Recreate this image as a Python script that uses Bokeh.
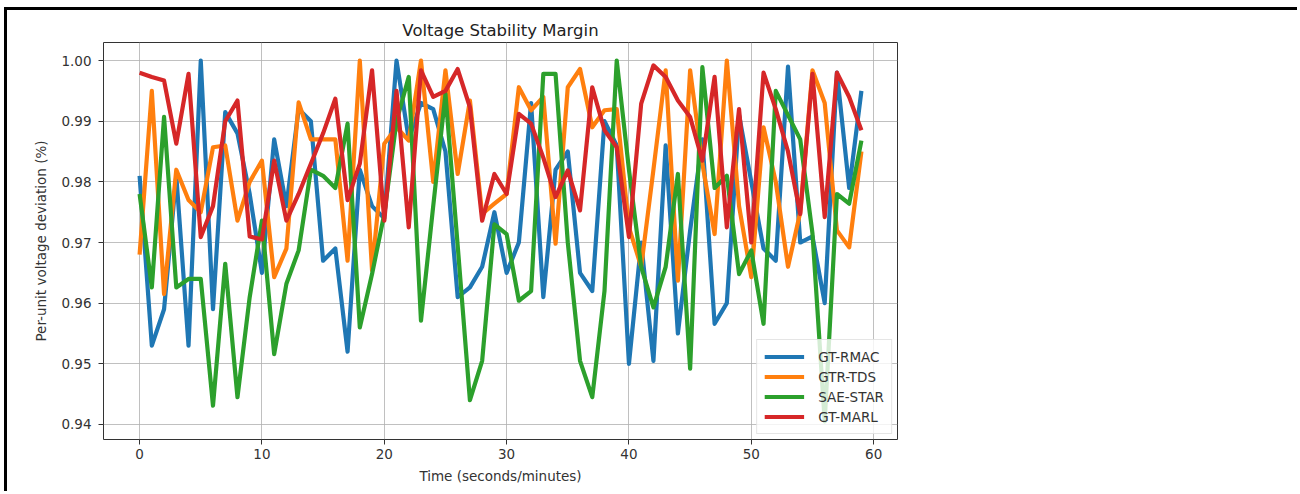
from bokeh.plotting import figure
from bokeh.models import Range1d, FixedTicker, PrintfTickFormatter, Legend, LegendItem
from bokeh.embed import file_html
from bokeh.resources import INLINE

time = list(range(60))
gt_rmac = [0.981, 0.953, 0.959, 0.981, 0.953, 1.000, 0.959, 0.9915, 0.988, 0.978,
           0.965, 0.987, 0.976, 0.992, 0.990, 0.967, 0.969, 0.952, 0.982, 0.976,
           0.974, 1.000, 0.987, 0.993, 0.992, 0.985, 0.961, 0.9626, 0.966, 0.975,
           0.965, 0.970, 0.993, 0.961, 0.982, 0.985, 0.965, 0.962, 0.990, 0.986,
           0.950, 0.970, 0.9505, 0.986, 0.955, 0.972, 0.987, 0.9566, 0.960, 0.991,
           0.980, 0.969, 0.967, 0.999, 0.970, 0.971, 0.960, 0.998, 0.979, 0.995]
gtr_tds = [0.968, 0.995, 0.9615, 0.982, 0.977, 0.975, 0.9857, 0.986, 0.9736, 0.980,
           0.9835, 0.9643, 0.969, 0.9931, 0.987, 0.987, 0.987, 0.967, 1.000, 0.9654,
           0.9863, 0.989, 0.9868, 1.000, 0.980, 0.9984, 0.9813, 0.9934, 0.9747, 0.9764,
           0.978, 0.9956, 0.9918, 0.994, 0.9698, 0.9956, 0.9986, 0.989, 0.9918, 0.992,
           0.9725, 0.966, 0.982, 0.9984, 0.9637, 0.9984, 0.983, 0.9714, 1.000, 0.976,
           0.9643, 0.989, 0.980, 0.966, 0.975, 0.9984, 0.993, 0.972, 0.9692, 0.985]
sae_star = [0.978, 0.9626, 0.9907, 0.9626, 0.964, 0.964, 0.9431, 0.9665, 0.9445, 0.961,
            0.9736, 0.9516, 0.9632, 0.9687, 0.982, 0.981, 0.979, 0.9896, 0.956, 0.9648,
            0.9747, 0.990, 0.9973, 0.9571, 0.976, 0.9945, 0.9695, 0.944, 0.9505, 0.973,
            0.9714, 0.9604, 0.962, 0.9978, 0.9978, 0.970, 0.9505, 0.9445, 0.962, 1.000,
            0.982, 0.966, 0.9593, 0.966, 0.9813, 0.9492, 0.9989, 0.979, 0.981, 0.9648,
            0.9687, 0.9566, 0.995, 0.991, 0.987, 0.9715, 0.9405, 0.978, 0.9764, 0.9868]
gt_marl = [0.998, 0.9973, 0.9967, 0.9863, 0.9978, 0.9709, 0.976, 0.990, 0.9934, 0.971,
           0.9705, 0.9835, 0.9736, 0.978, 0.983, 0.988, 0.9937, 0.977, 0.983, 0.9984,
           0.9736, 0.995, 0.9725, 0.9984, 0.994, 0.995, 0.9986, 0.9923, 0.9736, 0.9813,
           0.978, 0.9912, 0.9896, 0.984, 0.9775, 0.9819, 0.9753, 0.9956, 0.9885, 0.9857,
           0.9709, 0.9929, 0.9992, 0.9973, 0.9934, 0.9907, 0.9835, 0.9973, 0.9725, 0.992,
           0.970, 0.998, 0.992, 0.985, 0.9747, 0.9978, 0.9742, 0.998, 0.994, 0.9885]

series_names = ["GT-RMAC", "GTR-TDS", "SAE-STAR", "GT-MARL"]
series_values = [gt_rmac, gtr_tds, sae_star, gt_marl]
series_colors = ["#1f77b4", "#ff7f0e", "#2ca02c", "#d62728"]
x_ticks = [0, 10, 20, 30, 40, 50, 60]
y_ticks = [0.94, 0.95, 0.96, 0.97, 0.98, 0.99, 1.00]

FONT = "DejaVu Sans"

xmin, xmax = min(time), max(time)
xpad = 0.05 * (xmax - xmin)
allv = [v for s in series_values for v in s]
ymin, ymax = min(allv), max(allv)
ypad = 0.05 * (ymax - ymin)

p = figure(width=1293, height=484, output_backend="svg", toolbar_location=None,
           x_range=Range1d(xmin - xpad, xmax + xpad),
           y_range=Range1d(ymin - ypad, ymax + ypad),
           title="Voltage Stability Margin",
           min_border_left=96, min_border_right=403,
           min_border_top=32, min_border_bottom=55)

# black picture frame (top and left edges, as in the cropped original)
p.styles = {"margin-top": "10px", "margin-left": "7px",
            "box-shadow": "-3px -3px 0px 0px black"}

p.title.align = "center"
p.title.text_font = FONT
p.title.text_font_size = "16.5px"
p.title.text_font_style = "normal"
p.title.text_color = "#222222"
p.title.standoff = 5

p.background_fill_color = "white"
p.border_fill_color = "white"
p.outline_line_color = "#333333"
p.outline_line_width = 1

items = []
for name, vals, col in zip(series_names, series_values, series_colors):
    r = p.line(time, vals, line_color=col, line_width=4.2, line_join="round")
    items.append(LegendItem(label=name, renderers=[r]))

for ax in (p.xaxis[0], p.yaxis[0]):
    ax.axis_line_color = None
    ax.major_tick_line_color = "#333333"
    ax.major_tick_in = 0
    ax.major_tick_out = 5
    ax.minor_tick_line_color = None
    ax.major_label_text_font = FONT
    ax.major_label_text_font_size = "13.5px"
    ax.major_label_text_color = "#333333"
    ax.axis_label_text_font = FONT
    ax.axis_label_text_font_size = "13.5px"
    ax.axis_label_text_font_style = "normal"
    ax.axis_label_text_color = "#333333"

p.xaxis.ticker = FixedTicker(ticks=x_ticks)
p.yaxis.ticker = FixedTicker(ticks=y_ticks)
p.yaxis.formatter = PrintfTickFormatter(format="%.2f")
p.xaxis.axis_label = "Time (seconds/minutes)"
p.yaxis.axis_label = "Per-unit voltage deviation (%)"
p.xaxis.major_label_standoff = 4
p.xaxis.axis_label_standoff = 6
p.yaxis.major_label_standoff = 7
p.yaxis.axis_label_standoff = 9

p.xgrid.ticker = FixedTicker(ticks=x_ticks)
p.ygrid.ticker = FixedTicker(ticks=y_ticks)
p.grid.grid_line_color = "#b0b0b0"
p.grid.grid_line_width = 0.8

legend = Legend(items=items, location="bottom_right")
legend.label_text_font = FONT
legend.label_text_font_size = "13.5px"
legend.label_text_color = "#333333"
legend.glyph_width = 40
legend.glyph_height = 19
legend.label_height = 19
legend.label_standoff = 14
legend.spacing = 1
legend.padding = 7
legend.margin = 5
legend.border_line_color = "#cccccc"
legend.border_line_width = 1
legend.background_fill_color = "white"
legend.background_fill_alpha = 0.8
p.add_layout(legend)

open("out.html", "w").write(file_html(p, INLINE))
